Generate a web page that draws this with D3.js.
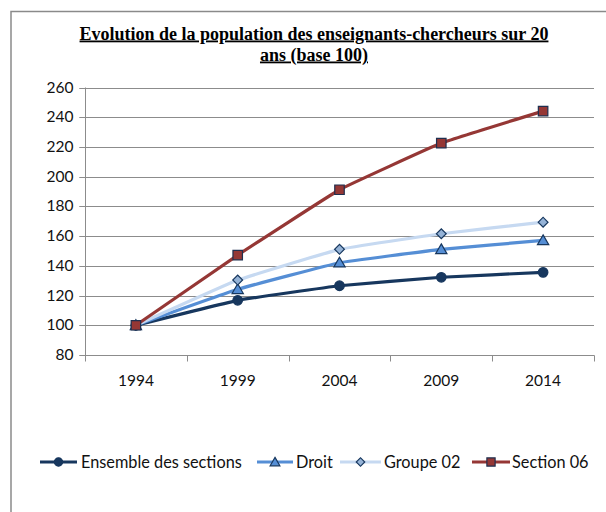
<!DOCTYPE html>
<html>
<head>
<meta charset="utf-8">
<script src="https://cdn.jsdelivr.net/npm/d3@7"></script>
<style>
  html, body { margin: 0; padding: 0; background: #fff; }
  svg { display: block; }
</style>
</head>
<body>
<div id="chart"></div>
<script>
// ---- data ----
const years = ["1994", "1999", "2004", "2009", "2014"];
const ensemble = [100, 116.8, 126.6, 132.3, 135.6];
const droit = [100, 124.2, 142.1, 151.1, 157.1];
const groupe02 = [100, 130.4, 151.1, 161.6, 169.4];
const section06 = [100, 147.2, 191.2, 222.6, 244.1];
const seriesNames = ["Ensemble des sections", "Droit", "Groupe 02", "Section 06"];
const yTicks = [80, 100, 120, 140, 160, 180, 200, 220, 240, 260];
const titleLines = ["Evolution de la population des enseignants-chercheurs sur 20", "ans (base 100)"];

// ---- styles ----
const styles = [
  { line: "#17375E", fill: "#17375E", stroke: "#17375E", sym: d3.symbolCircle, size: 72, rot: 0 },
  { line: "#558ED5", fill: "#558ED5", stroke: "#17375E", sym: d3.symbolTriangle, size: 55, rot: 0 },
  { line: "#C6D9F1", fill: "#95B3D7", stroke: "#17375E", sym: d3.symbolSquare, size: 48, rot: 45 },
  { line: "#953735", fill: "#953735", stroke: "#1F2F4F", sym: d3.symbolSquare, size: 90, rot: 0 }
];
const seriesData = [ensemble, droit, groupe02, section06];

const W = 606, H = 512;
const svg = d3.select("#chart").append("svg").attr("width", W).attr("height", H);

// frame
svg.append("rect").attr("x", 11).attr("y", 11.5).attr("width", 700).attr("height", 600)
  .attr("fill", "none").attr("stroke", "#8a8a8a").attr("stroke-width", 1.5);

// title
const title = svg.append("text")
  .attr("font-family", "'Liberation Serif', 'Times New Roman', serif")
  .attr("font-weight", "bold").attr("font-size", 18)
  .attr("text-anchor", "middle")
  .style("text-decoration", "underline");
titleLines.forEach((t, i) => {
  title.append("tspan").attr("x", 314).attr("y", 39.5 + i * 21).text(t);
});

// scales
const x = d3.scaleBand().domain(years).range([85, 594]).padding(0);
const y = d3.scaleLinear().domain([80, 260]).range([355, 87.5]);
const cx = d => x(d) + x.bandwidth() / 2;

const font = "Lato, 'Open Sans', sans-serif";

// gridlines
svg.append("g").selectAll("line").data(yTicks.filter(t => t !== 80)).join("line")
  .attr("x1", 79.5).attr("x2", 594).attr("y1", d => Math.round(y(d)) + 0.5).attr("y2", d => Math.round(y(d)) + 0.5)
  .attr("stroke", "#8c8c8c").attr("stroke-width", 1);

// y axis
const yAxis = svg.append("g").attr("transform", "translate(85.5,0)")
  .call(d3.axisLeft(y).tickValues(yTicks).tickSize(6).tickPadding(6));
yAxis.select(".domain").attr("stroke", "#8c8c8c").attr("d", `M0,${y(260)}V${y(80)}`);
yAxis.selectAll(".tick line").attr("stroke", "#8c8c8c");
yAxis.selectAll(".tick").attr("transform", d => `translate(0,${Math.round(y(d)) + 0.5})`);
yAxis.selectAll("text").attr("font-family", font).attr("font-size", 15.5).attr("fill", "#111");

// x axis
const xAxis = svg.append("g").attr("transform", `translate(0,${Math.round(y(80)) + 0.5})`);
xAxis.append("line").attr("x1", 79.5).attr("x2", 594.5).attr("y1", 0).attr("y2", 0).attr("stroke", "#8c8c8c");
const bounds = years.map(d => x(d)).concat([x(years[years.length - 1]) + x.bandwidth()]);
xAxis.selectAll("line.tk").data(bounds).join("line").attr("class", "tk")
  .attr("x1", d => Math.round(d) + 0.5).attr("x2", d => Math.round(d) + 0.5).attr("y1", 0).attr("y2", 6)
  .attr("stroke", "#8c8c8c");
xAxis.selectAll("text").data(years).join("text")
  .attr("x", d => cx(d)).attr("y", 30).attr("text-anchor", "middle")
  .attr("font-family", font).attr("font-size", 15.5).attr("fill", "#111").text(d => d);

// lines
const lineGen = d3.line().x((d, i) => cx(years[i])).y(d => y(d)).curve(d3.curveCardinal.tension(0.75));
seriesData.forEach((vals, s) => {
  const st = styles[s];
  const g = svg.append("g");
  g.append("path").attr("d", lineGen(vals)).attr("fill", "none")
    .attr("stroke", st.line).attr("stroke-width", 3.2).attr("stroke-linejoin", "round").attr("stroke-linecap", "round");
  g.selectAll("path.m").data(vals).join("path").attr("class", "m")
    .attr("transform", (d, i) => `translate(${cx(years[i])},${y(d) + (st.sym === d3.symbolTriangle ? 1 : 0)}) rotate(${st.rot})`)
    .attr("d", d3.symbol().type(st.sym).size(st.size))
    .attr("fill", st.fill).attr("stroke", st.stroke).attr("stroke-width", 1.2);
});

// legend
const legendItems = [
  { x: 40, w: 37, tx: 81 },
  { x: 257, w: 36, tx: 296 },
  { x: 340, w: 41, tx: 384 },
  { x: 472, w: 38, tx: 512 }
];
const ly = 462;
legendItems.forEach((it, s) => {
  const st = styles[s];
  const g = svg.append("g");
  g.append("line").attr("x1", it.x).attr("x2", it.x + it.w).attr("y1", ly).attr("y2", ly)
    .attr("stroke", st.line).attr("stroke-width", 3.2);
  g.append("path").attr("transform", `translate(${it.x + it.w / 2},${ly + (st.sym === d3.symbolTriangle ? 1 : 0)}) rotate(${st.rot})`)
    .attr("d", d3.symbol().type(st.sym).size(st.size * 0.75))
    .attr("fill", st.fill).attr("stroke", st.stroke).attr("stroke-width", 1.2);
  g.append("text").attr("x", it.tx).attr("y", ly + 5.5)
    .attr("font-family", font).attr("font-size", 16.3).attr("fill", "#111").text(seriesNames[s]);
});
</script>
</body>
</html>
